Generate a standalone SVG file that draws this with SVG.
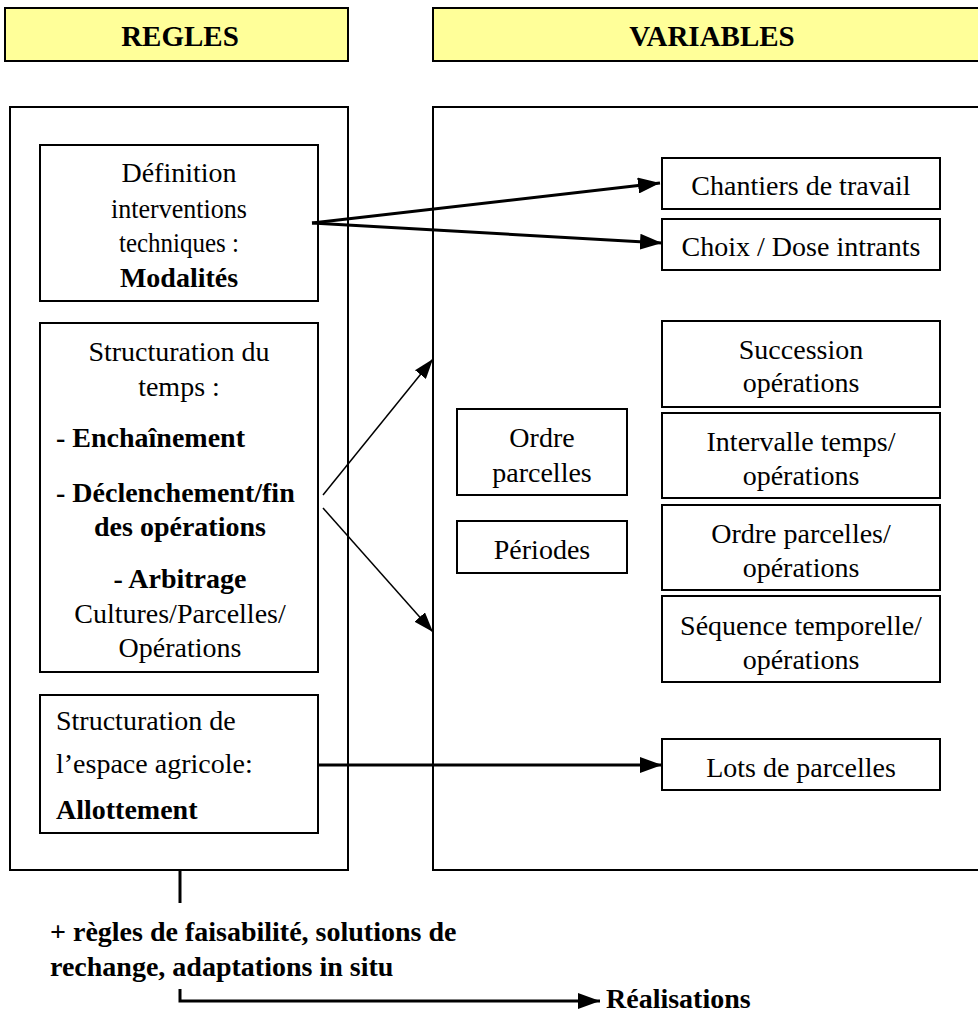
<svg xmlns="http://www.w3.org/2000/svg" width="978" height="1014" viewBox="0 0 978 1014">
<style>
.box{fill:#fff;stroke:#000;stroke-width:2}
.hdr{fill:#FFFF99;stroke:#000;stroke-width:2}
text{font-family:"Liberation Serif","Times New Roman",serif;font-size:28px;fill:#000}
.c{text-anchor:middle}
.b{font-weight:bold}
.h{font-size:29px;font-weight:bold;text-anchor:middle}
.thick{stroke:#000;stroke-width:3;fill:none}
.thin{stroke:#000;stroke-width:1.5;fill:none}
</style>
<defs>
<marker id="ah" markerUnits="userSpaceOnUse" markerWidth="22" markerHeight="16" refX="22" refY="8" orient="auto"><path d="M0,0 L22,8 L0,16 Z" fill="#000"/></marker>
<marker id="ahs" markerUnits="userSpaceOnUse" markerWidth="20" markerHeight="14" refX="20" refY="7" orient="auto"><path d="M0,0 L20,7 L0,14 Z" fill="#000"/></marker>
</defs>
<g id="hdr-regles"><rect class="hdr" x="5" y="8" width="343" height="53"/><text class="h" x="180" y="46">REGLES</text></g>
<g id="hdr-variables"><rect class="hdr" x="433" y="8" width="550" height="53"/><text class="h" x="712" y="46">VARIABLES</text></g>
<g id="regles"><rect class="box" x="10" y="107" width="338" height="763"/></g>
<g id="variables"><rect class="box" x="433" y="107" width="550" height="763"/></g>
<g id="definition"><rect class="box" x="40" y="145" width="278" height="156"/>
<text class="c" x="179" y="182">Définition</text>
<text class="c" x="179" y="218" textLength="136" lengthAdjust="spacingAndGlyphs">interventions</text>
<text class="c" x="179" y="252" textLength="120" lengthAdjust="spacingAndGlyphs">techniques :</text>
<text class="c b" x="179" y="287">Modalités</text></g>
<g id="structuration-temps"><rect class="box" x="40" y="323" width="278" height="349"/>
<text class="c" x="179" y="361">Structuration du</text>
<text class="c" x="179" y="396">temps :</text>
<text class="b" x="56" y="447">- Enchaînement</text>
<text class="b" x="56" y="502">- Déclenchement/fin</text>
<text class="c b" x="180" y="536">des opérations</text>
<text class="c b" x="180" y="588">- Arbitrage</text>
<text class="c" x="180" y="623">Cultures/Parcelles/</text>
<text class="c" x="180" y="657">Opérations</text></g>
<g id="structuration-espace"><rect class="box" x="40" y="695" width="278" height="138"/>
<text x="56" y="730">Structuration de</text>
<text x="56" y="773">l’espace agricole:</text>
<text class="b" x="56" y="819">Allottement</text></g>
<g id="chantiers"><rect class="box" x="662" y="158" width="278" height="51"/><text class="c" x="801" y="195">Chantiers de travail</text></g>
<g id="choix"><rect class="box" x="662" y="219" width="278" height="51"/><text class="c" x="801" y="256">Choix / Dose intrants</text></g>
<g id="succession"><rect class="box" x="662" y="321" width="278" height="86"/><text class="c" x="801" y="359">Succession</text><text class="c" x="801" y="392">opérations</text></g>
<g id="intervalle"><rect class="box" x="662" y="413" width="278" height="85"/><text class="c" x="801" y="451">Intervalle temps/</text><text class="c" x="801" y="485">opérations</text></g>
<g id="ordre-ops"><rect class="box" x="662" y="505" width="278" height="85"/><text class="c" x="801" y="543">Ordre parcelles/</text><text class="c" x="801" y="577">opérations</text></g>
<g id="sequence"><rect class="box" x="662" y="596" width="278" height="86"/><text class="c" x="801" y="635">Séquence temporelle/</text><text class="c" x="801" y="669">opérations</text></g>
<g id="ordre-parcelles"><rect class="box" x="457" y="409" width="170" height="86"/><text class="c" x="542" y="447">Ordre</text><text class="c" x="542" y="482">parcelles</text></g>
<g id="periodes"><rect class="box" x="457" y="521" width="170" height="52"/><text class="c" x="542" y="559">Périodes</text></g>
<g id="lots"><rect class="box" x="662" y="739" width="278" height="51"/><text class="c" x="801" y="777">Lots de parcelles</text></g>
<g id="bottom-text">
<text class="b" x="50" y="941">+ règles de faisabilité, solutions de</text>
<text class="b" x="50" y="976">rechange, adaptations in situ</text>
<text class="b" x="606" y="1008">Réalisations</text></g>
<g id="connectors">
<path class="thick" d="M312,223 L660,183" marker-end="url(#ah)"/>
<path class="thick" d="M312,223 L662,243" marker-end="url(#ah)"/>
<path class="thin" d="M323,495 L433,359" marker-end="url(#ahs)"/>
<path class="thin" d="M323,508 L433,632" marker-end="url(#ahs)"/>
<path class="thick" d="M318,765 L662,765" marker-end="url(#ah)"/>
<path class="thick" d="M180,871 L180,903"/>
<path class="thick" d="M180,989 L180,1001 L600,1001" marker-end="url(#ah)"/>
</g>
</svg>
